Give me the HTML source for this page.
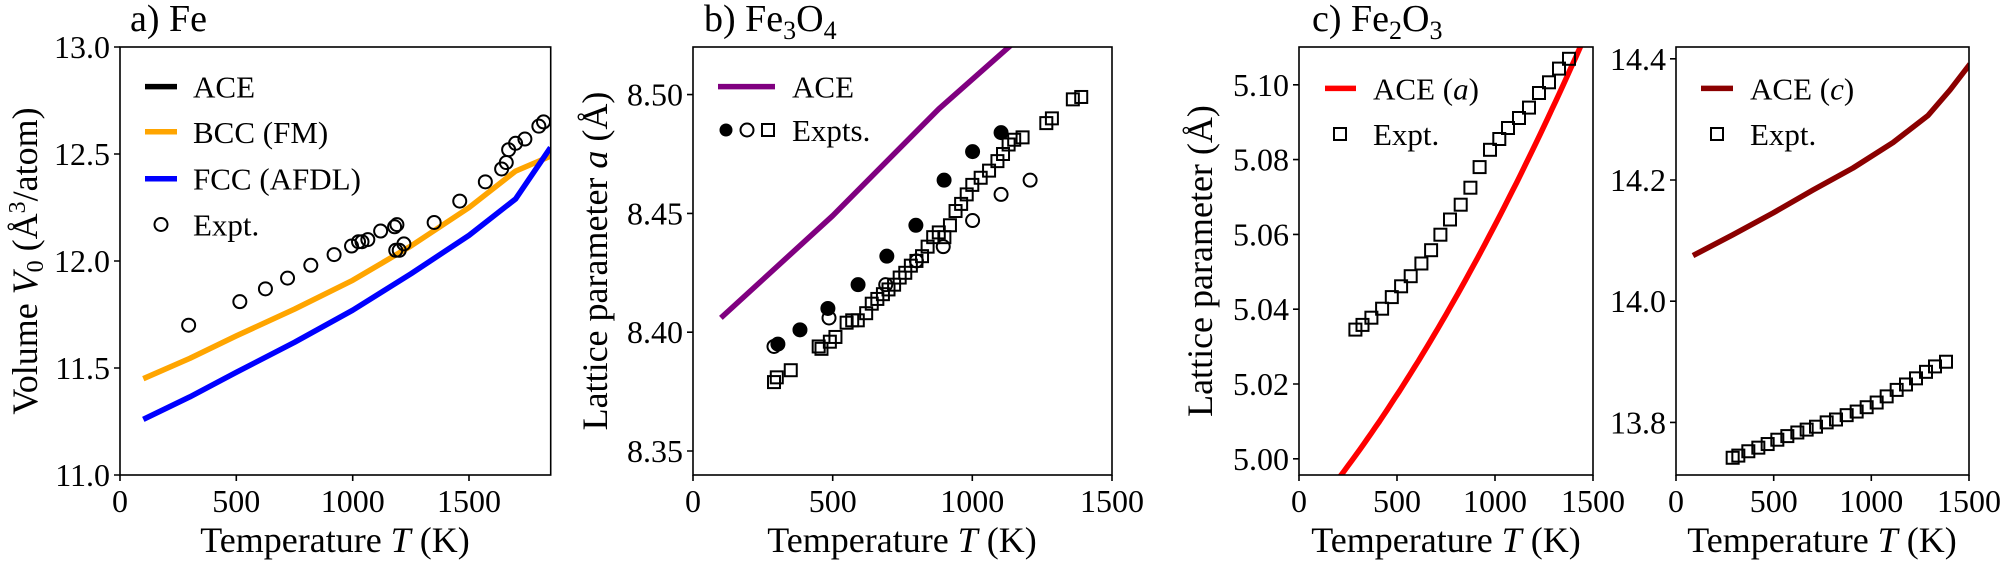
<!DOCTYPE html>
<html><head><meta charset="utf-8"><style>
html,body{margin:0;padding:0;background:#fff;font-family:"Liberation Serif","Times New Roman",Times,serif;}
svg{display:block;}
text,tspan{font-family:"Liberation Serif","Times New Roman",Times,"DejaVu Serif",serif !important;}
.t{font-size:32px;fill:#000;}
.l{font-size:36px;fill:#000;}
.g{font-size:31px;fill:#000;}
</style></head><body>
<svg id="s" width="2000" height="565" viewBox="0 0 2000 565" xmlns="http://www.w3.org/2000/svg" style="font-family:'Liberation Serif','Times New Roman',serif">
<g id="data"></g>
<g fill="none" stroke="#000" stroke-width="1.6">
<rect x="120" y="47" width="430.7" height="428"/>
<rect x="693" y="47" width="419" height="428"/>
<rect x="1299" y="47" width="294" height="428"/>
<rect x="1676" y="47" width="293" height="428"/>
<path d="M120,475v6M236.3,475v6M352.7,475v6M469,475v6M120,47h-6M120,154h-6M120,261h-6M120,368h-6M120,475h-6
M693,475v6M832.7,475v6M972.3,475v6M1112,475v6M693,94.6h-6M693,213.4h-6M693,332.2h-6M693,451h-6
M1299,475v6M1397,475v6M1495,475v6M1593,475v6M1299,84.8h-6M1299,159.6h-6M1299,234.4h-6M1299,309.2h-6M1299,384h-6M1299,458.8h-6
M1676,475v6M1773.7,475v6M1871.3,475v6M1969,475v6M1676,58.8h-6M1676,180h-6M1676,301.2h-6M1676,422.4h-6"/>
</g>
<g style="font-family:'Liberation Serif','Times New Roman',serif">
<text class="l" x="130" y="31" style="font-size:38px">a) Fe</text>
<text class="l" x="704" y="31" style="font-size:38px">b) Fe<tspan dy="8" font-size="26">3</tspan><tspan dy="-8">O</tspan><tspan dy="8" font-size="26">4</tspan></text>
<text class="l" x="1312" y="31" style="font-size:38px">c) Fe<tspan dy="8" font-size="26">2</tspan><tspan dy="-8">O</tspan><tspan dy="8" font-size="26">3</tspan></text>
<g class="t" text-anchor="middle">
<text x="120" y="512">0</text><text x="236.3" y="512">500</text><text x="352.7" y="512">1000</text><text x="469" y="512">1500</text>
<text x="693" y="512">0</text><text x="832.7" y="512">500</text><text x="972.3" y="512">1000</text><text x="1112" y="512">1500</text>
<text x="1299" y="512">0</text><text x="1397" y="512">500</text><text x="1495" y="512">1000</text><text x="1593" y="512">1500</text>
<text x="1676" y="512">0</text><text x="1773.7" y="512">500</text><text x="1871.3" y="512">1000</text><text x="1969" y="512">1500</text>
</g>
<g class="t" text-anchor="end">
<text x="110" y="58">13.0</text><text x="110" y="165">12.5</text><text x="110" y="272">12.0</text><text x="110" y="379">11.5</text><text x="110" y="486">11.0</text>
<text x="683" y="105.6">8.50</text><text x="683" y="224.4">8.45</text><text x="683" y="343.2">8.40</text><text x="683" y="462">8.35</text>
<text x="1289" y="95.8">5.10</text><text x="1289" y="170.6">5.08</text><text x="1289" y="245.4">5.06</text><text x="1289" y="320.2">5.04</text><text x="1289" y="395">5.02</text><text x="1289" y="469.8">5.00</text>
<text x="1666" y="69.8">14.4</text><text x="1666" y="191">14.2</text><text x="1666" y="312.2">14.0</text><text x="1666" y="433.4">13.8</text>
</g>
<g class="l" text-anchor="middle">
<text x="335" y="552">Temperature <tspan font-style="italic">T</tspan> (K)</text>
<text x="902" y="552">Temperature <tspan font-style="italic">T</tspan> (K)</text>
<text x="1446" y="552">Temperature <tspan font-style="italic">T</tspan> (K)</text>
<text x="1822" y="552">Temperature <tspan font-style="italic">T</tspan> (K)</text>
</g>
<text class="l" text-anchor="middle" transform="translate(37,261) rotate(-90)">Volume <tspan font-style="italic">V</tspan><tspan font-size="24" dy="6">0</tspan><tspan dy="-6"> (Å</tspan><tspan font-size="24" dy="-12">3</tspan><tspan dy="12">/atom)</tspan></text>
<text class="l" text-anchor="middle" transform="translate(607,261) rotate(-90)">Lattice parameter <tspan font-style="italic">a</tspan> (Å)</text>
<text class="l" text-anchor="middle" transform="translate(1212,261) rotate(-90)">Lattice parameter (Å)</text>
</g>
<g stroke-width="5.5">
<line x1="145" y1="86.6" x2="177" y2="86.6" stroke="#000"/>
<line x1="145" y1="131.8" x2="177" y2="131.8" stroke="#ffa500"/>
<line x1="145" y1="178.7" x2="177" y2="178.7" stroke="#0000ff"/>
<line x1="718" y1="86.6" x2="775" y2="86.6" stroke="#800080"/>
<line x1="1325" y1="88.4" x2="1356" y2="88.4" stroke="#ff0000"/>
<line x1="1701" y1="88.4" x2="1733" y2="88.4" stroke="#8b0000"/>
</g>
<g fill="none" stroke="#000" stroke-width="2">
<circle cx="161" cy="224.5" r="6.5"/>
<circle cx="747" cy="130" r="6.5"/>
<rect x="762" y="124" width="12" height="12"/>
<rect x="1334" y="128" width="12" height="12"/>
<rect x="1711" y="128" width="12" height="12"/>
</g>
<circle cx="726" cy="130" r="6.5" fill="#000"/>
<g class="g" style="font-family:'Liberation Serif','Times New Roman',serif">
<text x="193" y="97.6">ACE</text>
<text x="193" y="142.8">BCC (FM)</text>
<text x="193" y="189.7">FCC (AFDL)</text>
<text x="193" y="235.5">Expt.</text>
<text x="792" y="97.6">ACE</text>
<text x="792" y="141">Expts.</text>
<text x="1373" y="99.4">ACE (<tspan font-style="italic">a</tspan>)</text>
<text x="1373" y="145">Expt.</text>
<text x="1750" y="99.4">ACE (<tspan font-style="italic">c</tspan>)</text>
<text x="1750" y="145">Expt.</text>
</g>
</svg>
<script>
(function(){
var NS="http://www.w3.org/2000/svg",g=document.getElementById("data");
function el(n,a){var e=document.createElementNS(NS,n);for(var k in a)e.setAttribute(k,a[k]);g.appendChild(e);return e;}
function clip(id,x,y,w,h){var d=el("clipPath",{id:id});var r=document.createElementNS(NS,"rect");r.setAttribute("x",x);r.setAttribute("y",y);r.setAttribute("width",w);r.setAttribute("height",h);d.appendChild(r);}
clip("ca",120,47,430.7,428);clip("cb",693,47,419,428);clip("cc",1299,47,294,428);clip("cd",1676,47,293,428);
function line(pts,col,cp){el("polyline",{points:pts.map(function(p){return p[0].toFixed(1)+","+p[1].toFixed(1)}).join(" "),fill:"none",stroke:col,"stroke-width":5.5,"stroke-linejoin":"round","clip-path":"url(#"+cp+")"});}
function circ(x,y,f){el("circle",{cx:x,cy:y,r:6.5,fill:f?"#000":"none",stroke:"#000","stroke-width":2});}
function sq(x,y){el("rect",{x:x-6,y:y-6,width:12,height:12,fill:"none",stroke:"#000","stroke-width":2});}
var ax=function(T){return 120+0.2327*T},ay=function(v){return 47+(13-v)*214};
function A(a){return a.map(function(p){return [ax(p[0]),ay(p[1])]})}
line(A([[100,11.45],[300,11.545],[500,11.65],[750,11.775],[1000,11.91],[1250,12.07],[1500,12.25],[1700,12.42],[1850,12.49]]),"#ffa500","ca");
line(A([[100,11.26],[300,11.365],[500,11.48],[750,11.62],[1000,11.77],[1250,11.94],[1500,12.12],[1700,12.29],[1850,12.53]]),"#0000ff","ca");
[[295,11.70],[515,11.81],[625,11.87],[720,11.92],[820,11.98],[920,12.03],[995,12.07],[1025,12.09],[1040,12.09],[1065,12.10],[1120,12.14],[1180,12.16],[1190,12.17],[1185,12.05],[1200,12.05],[1220,12.08],[1350,12.18],[1460,12.28],[1570,12.37],[1640,12.43],[1660,12.46],[1670,12.52],[1700,12.55],[1740,12.57],[1800,12.63],[1820,12.65]].forEach(function(p){circ(ax(p[0]),ay(p[1]),false)});
var bx=function(T){return 693+0.2793*T},by=function(v){return 94.6+(8.50-v)*2376};
line([[100,8.406],[500,8.449],[880,8.494],[1150,8.522]].map(function(p){return[bx(p[0]),by(p[1])]}),"#800080","cb");
[[290,8.379],[300,8.381],[350,8.384],[450,8.394],[460,8.393],[490,8.396],[510,8.398],[550,8.404],[570,8.405],[590,8.405],[620,8.408],[640,8.412],[660,8.414],[680,8.416],[700,8.418],[720,8.420],[740,8.423],[760,8.425],[780,8.428],[800,8.430],[820,8.432],[840,8.436],[860,8.440],[880,8.442],[900,8.440],[920,8.445],[940,8.451],[960,8.454],[980,8.458],[1000,8.462],[1030,8.465],[1060,8.468],[1090,8.472],[1110,8.475],[1130,8.479],[1150,8.481],[1180,8.482],[1265,8.488],[1285,8.490],[1360,8.498],[1390,8.499]].forEach(function(p){sq(bx(p[0]),by(p[1]))});
[[290,8.394],[487,8.406],[690,8.420],[800,8.430],[896,8.436],[1001,8.447],[1103,8.458],[1207,8.464]].forEach(function(p){circ(bx(p[0]),by(p[1]),false)});
[[304,8.395],[383,8.401],[483,8.410],[591,8.420],[694,8.432],[798,8.445],[899,8.464],[1001,8.476],[1103,8.484]].forEach(function(p){circ(bx(p[0]),by(p[1]),true)});
var cx=function(T){return 1299+0.196*T},cy=function(v){return 84.8+(5.10-v)*3740};
var rp=[];for(var T=150;T<=1480;T+=20){var t=T/1000;rp.push([cx(T),cy(4.98162+0.06105*t+0.01984*t*t)]);}
line(rp,"#ff0000","cc");
[[1355.4,329.6],[1362.5,324.9],[1371.4,317.7],[1382.1,308.7],[1391.8,297.1],[1401.1,286.3],[1410.7,276.2],[1421.4,263.5],[1431.1,250.2],[1440.4,234.7],[1450,219.5],[1460.7,204.7],[1470.4,187.7],[1479.6,167.1],[1490,149.8],[1499.3,139],[1508,128],[1519,118],[1529,107.6],[1539,93],[1549,82.3],[1559,68.6],[1569,58.8]].forEach(function(p){sq(p[0],p[1])});
line([[1693,255.6],[1733,234.7],[1773,213],[1813,190],[1853,168],[1893,142.6],[1928,115.5],[1950,90],[1970,64]],"#8b0000","cd");
var xs=[698,715,745,775,803,832,862,892,920,948,980,1008,1040,1070,1100,1130,1160,1190,1218,1248,1278,1305,1338],ys=[1268,1262,1250,1240,1230,1218,1208,1198,1190,1182,1170,1162,1150,1140,1128,1115,1098,1080,1065,1048,1030,1015,1002];
for(var i=0;i<xs.length;i++)sq(1500+xs[i]/3,ys[i]/2.77);
})();
</script>
</body></html>
